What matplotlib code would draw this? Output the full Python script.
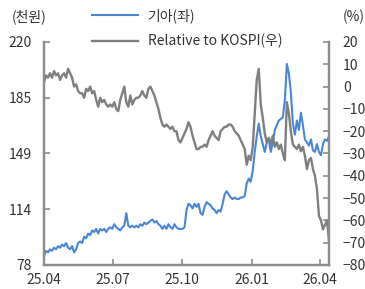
import matplotlib
matplotlib.use("Agg")
import matplotlib.pyplot as plt
import pandas as pd
import numpy as np
from matplotlib.lines import Line2D

plt.rcParams['font.family'] = ['Noto Sans CJK KR', 'DejaVu Sans']

start_date = "2025-04-01"
end_date = "2026-04-13"

# 기아 share price (천원)
kia = [84, 87, 86, 88, 87, 89, 88, 90, 89, 91, 90, 92, 89, 88, 90, 86, 88, 92, 93, 92,
       96, 95, 98, 97, 100, 99, 101, 98, 101, 100, 101, 99, 101, 102, 101, 104, 102, 101, 100, 102,
       103, 111, 103, 102, 103, 102, 103, 102, 104, 103, 105, 104, 105, 106, 107, 105, 106, 104, 103, 101,
       103, 101, 104, 102, 101, 104, 102, 101, 101, 101, 102, 113, 117, 116, 114, 117, 115, 117, 111, 110,
       115, 118, 117, 116, 114, 113, 111, 113, 112, 117, 123, 125, 123, 121, 120, 121, 120, 120, 121, 121,
       122, 130, 133, 131, 138, 150, 160, 168, 160, 155, 150, 156, 158, 150, 156, 164, 167, 170, 171, 172,
       183, 206, 200, 188, 168, 161, 170, 164, 175, 167, 158, 156, 154, 158, 151, 150, 155, 150, 148, 155,
       158, 157, 160]

# Relative to KOSPI (%)
rel = [2, 5, 4, 6, 4, 7, 5, 6, 3, 5, 6, 4, 8, 6, 4, 0, 1, -2, -3, -3,
       -5, -1, -2, 0, -3, -2, -6, -9, -5, -7, -6, -8, -9, -8, -9, -7, -10, -11, -6, -3,
       0, -7, -9, -4, -8, -6, -5, -5, -4, -2, -4, -5, -1, 0, -2, -4, -7, -10, -14, -17,
       -18, -17, -18, -19, -18, -20, -20, -24, -25, -23, -21, -19, -16, -18, -22, -25, -28, -28, -27, -27,
       -26, -27, -24, -22, -20, -22, -23, -24, -20, -19, -18, -18, -17, -17, -18, -20, -21, -22, -24, -26,
       -28, -35, -31, -33, -27, -12, 3, 8, -8, -14, -21, -25, -23, -26, -22, -27, -25, -28, -26, -30,
       -33, -7, -12, -20, -26, -27, -28, -26, -29, -27, -31, -37, -33, -32, -37, -40, -46, -58, -60, -64,
       -62, -60, -69]

x_ticks = ["2025-04-01", "2025-07-01", "2025-10-01", "2026-01-01", "2026-04-01"]
x_labels = ["25.04", "25.07", "25.10", "26.01", "26.04"]
left_ticks = [78, 113.5, 149, 184.5, 220]
left_labels = ["78", "114", "149", "185", "220"]
right_ticks = list(range(-80, 21, 10))

kia_dates = pd.date_range(start_date, end_date, periods=len(kia))
rel_dates = pd.date_range(start_date, end_date, periods=len(rel))

BLUE = '#4A86D6'
GRAY = '#7F7F7F'
AX = '#8C8C8C'
TXT = '#333333'

fig = plt.figure(figsize=(3.65, 2.89), dpi=100)
ax = fig.add_axes([44/365, 1-265/289, (329-44)/365, (265-42)/289])
ax2 = ax.twinx()

ax.plot(kia_dates, kia, color=BLUE, lw=1.5)
ax2.plot(rel_dates, rel, color=GRAY, lw=1.7)

ax.set_xlim(pd.Timestamp(start_date), pd.Timestamp(end_date))
ax.set_ylim(78, 220)
ax2.set_ylim(-80, 20)

ax.set_xticks(pd.to_datetime(x_ticks))
ax.set_xticklabels(x_labels)
ax.set_yticks(left_ticks)
ax.set_yticklabels(left_labels)
ax2.set_yticks(right_ticks)
ax2.set_yticklabels([str(v) if v >= 0 else "\u2212" + str(-v) for v in right_ticks])

for a in (ax, ax2):
    a.spines['top'].set_visible(False)
    for s in ('left', 'right', 'bottom'):
        a.spines[s].set_color(AX)
        a.spines[s].set_linewidth(1.6)
ax.tick_params(axis='both', direction='in', length=4, width=1.2, color=AX, labelsize=10, labelcolor=TXT)
ax.tick_params(axis='x', pad=6)
ax.tick_params(axis='y', pad=9)
ax2.tick_params(axis='y', direction='in', length=4, width=1.2, color=AX, labelsize=10, labelcolor=TXT, pad=10)

fig.text(12/365, 1-17/289, "(천원)", fontsize=10, va='center', ha='left', color=TXT)
fig.text(343/365, 1-17/289, "(%)", fontsize=10, va='center', ha='left', color=TXT)

handles = [Line2D([], [], color=BLUE, lw=1.5), Line2D([], [], color=GRAY, lw=1.7)]
fig.legend(handles, ["기아(좌)", "Relative to KOSPI(우)"], loc='upper left',
           bbox_to_anchor=(92/365, 1-8/289), frameon=False, fontsize=10,
           handlelength=3.3, handletextpad=0.7, borderpad=0, borderaxespad=0,
           labelspacing=0.8, labelcolor=TXT)

fig.savefig("out.png", dpi=100)
